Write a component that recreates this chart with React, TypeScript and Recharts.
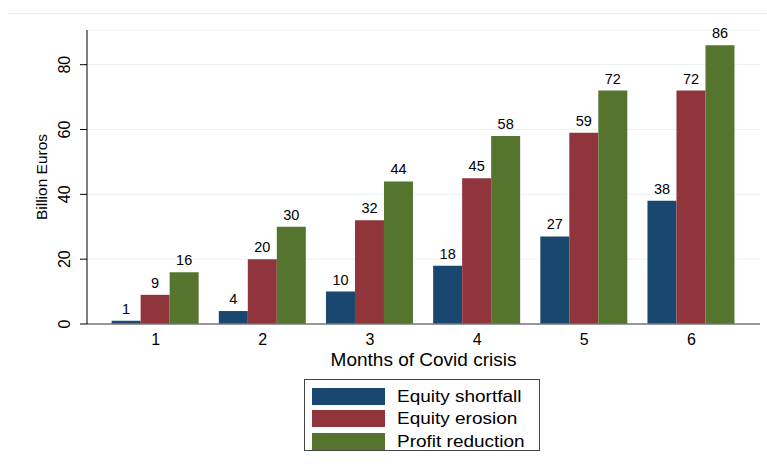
import { BarChart, Bar, XAxis, YAxis, CartesianGrid, LabelList } from "recharts";

const MONTHS = ["1", "2", "3", "4", "5", "6"];
const EQUITY_SHORTFALL = [1, 4, 10, 18, 27, 38];
const EQUITY_EROSION = [9, 20, 32, 45, 59, 72];
const PROFIT_REDUCTION = [16, 30, 44, 58, 72, 86];
const Y_TICKS = [0, 20, 40, 60, 80];

const SERIES = [
  { key: "shortfall", name: "Equity shortfall", color: "#1a476f" },
  { key: "erosion", name: "Equity erosion", color: "#90353b" },
  { key: "profit", name: "Profit reduction", color: "#55752f" },
];

const data = MONTHS.map((m, i) => ({
  month: m,
  shortfall: EQUITY_SHORTFALL[i],
  erosion: EQUITY_EROSION[i],
  profit: PROFIT_REDUCTION[i],
}));

const FONT = "'Liberation Sans', Arial, Helvetica, sans-serif";

// stata-style rotated y tick labels
const YTick = (props: any) => {
  const { x, y, payload } = props;
  return (
    <text
      x={x}
      y={y}
      transform={`rotate(-90, ${x}, ${y})`}
      textAnchor="middle"
      fontSize={16}
      fill="#000"
      fontFamily={FONT}
    >
      {payload.value}
    </text>
  );
};

export default function App() {
  return (
    <div style={{ position: "absolute", left: 0, top: 0, width: 767, height: 464, background: "#fff", fontFamily: FONT }}>
      <div style={{ position: "absolute", left: 8, right: 0, top: 13, borderTop: "1px solid #ececec" }} />
      <BarChart
        width={767}
        height={464}
        data={data}
        margin={{ top: 30, right: 7, bottom: 98, left: 27 }}
        barCategoryGap="9%"
        barGap={0}
      >
        <CartesianGrid horizontal vertical={false} stroke="#eaf2f3" strokeWidth={1} />
        <XAxis
          dataKey="month"
          height={42}
          padding={{ left: 15, right: 15 }}
          tickLine={false}
          axisLine={{ stroke: "#777", strokeWidth: 1.5 }}
          tick={{ fontSize: 16, fill: "#000", fontFamily: FONT }}
          tickMargin={4}
          label={{ value: "Months of Covid crisis", position: "insideBottom", offset: 0, fontSize: 19, fill: "#000", fontFamily: FONT }}
        />
        <YAxis
          width={60}
          domain={[0, 90.7]}
          ticks={Y_TICKS}
          interval={0}
          tickSize={7}
          tickLine={{ stroke: "#000" }}
          axisLine={{ stroke: "#000", strokeWidth: 1 }}
          tick={<YTick />}
          tickMargin={10}
          label={{ value: "Billion Euros", angle: -90, position: "insideLeft", offset: 14, fontSize: 15.5, fill: "#000", fontFamily: FONT, style: { textAnchor: "middle" } }}
        />
        {SERIES.map((s) => (
          <Bar key={s.key} dataKey={s.key} name={s.name} fill={s.color} isAnimationActive={false}>
            <LabelList dataKey={s.key} position="top" offset={7} fontSize={14.5} fill="#000" fontFamily={FONT} />
          </Bar>
        ))}
      </BarChart>
      <div
        style={{
          position: "absolute",
          left: 304,
          top: 379,
          width: 236,
          height: 72,
          border: "1px solid #444",
          boxSizing: "border-box",
          padding: "5px 0 0 7px",
        }}
      >
        {SERIES.map((s) => (
          <div key={s.key} style={{ display: "flex", alignItems: "center", height: 22.5 }}>
            <div style={{ width: 73, height: 17, background: s.color }} />
            <span
              style={{
                marginLeft: 12,
                fontSize: 16.5,
                color: "#000",
                display: "inline-block",
                transform: "scaleX(1.15)",
                transformOrigin: "left center",
                whiteSpace: "nowrap",
              }}
            >
              {s.name}
            </span>
          </div>
        ))}
      </div>
    </div>
  );
}
